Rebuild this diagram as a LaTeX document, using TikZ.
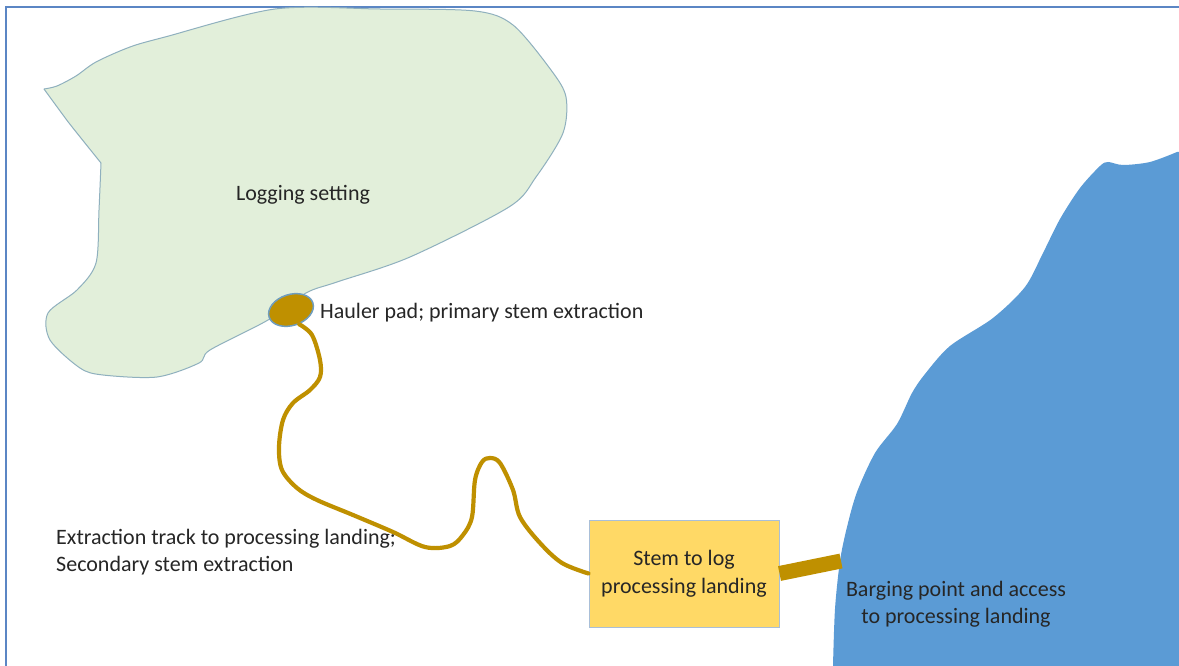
\documentclass[tikz,border=0pt]{standalone}
\usepackage{fontspec}
\setmainfont{Carlito}
\usetikzlibrary{shapes.geometric}
\definecolor{framec}{HTML}{5B86C4}
\definecolor{greenc}{HTML}{E2EFDA}
\definecolor{edgec}{HTML}{8FB0BE}
\definecolor{padedge}{HTML}{6F9DBE}
\definecolor{waterc}{HTML}{5B9BD5}
\definecolor{trackc}{HTML}{BF9000}
\definecolor{boxc}{HTML}{FFD966}
\definecolor{boxedge}{HTML}{A9BFD8}
\definecolor{textc}{HTML}{262626}
\tikzset{
  label text/.style={font=\fontsize{22}{27.5}\selectfont, text=textc, inner sep=0pt},
  track/.style={draw=trackc, line width=4.2pt, line cap=round, line join=round},
}
\begin{document}
\begin{tikzpicture}[x=1pt,y=-1pt]
\useasboundingbox (0,0) rectangle (1179,666);
\fill[white] (0,0) rectangle (1179,666);
% frame
\draw[framec, line width=1.5pt] (6,666) -- (6,7) -- (1179,7);
% logging setting
\fill[greenc] plot[smooth, tension=0.5] coordinates {
  (44,89) (57,86) (76,76) (96,62) (130,47) (165,37) (275,9) (380,9) (475,11) (513,25) (551,70) (566,97) (563,133)
  (536,177) (509,207) (410,257) (337,282) (306,293) (268,320) (210,350) (199,363) (157,377)
  (103,375) (80,368) (50,340) (48,313) (77,290) (96,263) (99,210) (101,163)}
  -- plot[smooth, tension=0.3] coordinates {(101,163) (69,123) (44,89)} -- cycle;
\draw[edgec, line width=1pt, line join=round] plot[smooth, tension=0.5] coordinates {
  (44,89) (57,86) (76,76) (96,62) (130,47) (165,37) (275,9) (380,9) (475,11) (513,25) (551,70) (566,97) (563,133)
  (536,177) (509,207) (410,257) (337,282) (306,293) (268,320) (210,350) (199,363) (157,377)
  (103,375) (80,368) (50,340) (48,313) (77,290) (96,263) (99,210) (101,163)};
\draw[edgec, line width=1pt, line join=round] plot[smooth, tension=0.3] coordinates {(101,163) (69,123) (44,89)};
% water
\fill[waterc] plot[smooth, tension=0.5] coordinates {
  (1177,152) (1150,162) (1123,165) (1108,162) (1100,166) (1080,188) (1060,219) (1043,253)
  (1025,287) (993,318) (950,346) (925,374) (912,393) (897,424) (875,453) (857,492) (847,527)
  (840,561) (835,609) (833,666)} -- (1179,666) -- (1179,152) -- cycle;
% landing
\node[draw=boxedge, fill=boxc, line width=1pt, minimum width=190pt, minimum height=107pt, inner sep=0pt, align=center, font=\fontsize{22}{27.5}\selectfont, text=textc] (box) at (684,573.5) {Stem to log\\processing landing};
% barge access
\coordinate (barge) at (841,561);
\draw[trackc, line width=15pt] (box.east) -- (barge);
% pad
\node[ellipse, draw=padedge, fill=trackc, line width=1.5pt, minimum width=46pt, minimum height=31pt, inner sep=0pt, rotate=18] (pad) at (291,310) {};
% track
\draw[track] plot[smooth, tension=0.55] coordinates {
  (pad.-78) (312,335) (320,360) (320,377) (310,390) (293,403) (283,420) (279,447) (282,470)
  (297,488) (317,500) (353,515) (393,532) (425,547) (450,546) (463,535) (472,517) (475,480)
  (482,462) (490,458) (500,463) (513,490) (520,517) (540,543) (562,563) (box.west)};
% labels
\node[label text] (ls) at (303,194.5) {Logging setting};
\node[label text, anchor=west] (hp) at (320,313) {Hauler pad; primary stem extraction};
\node[label text, anchor=west, align=left] (et) at (56,552) {Extraction track to processing landing;\\Secondary stem extraction};
\node[label text, align=center] (bp) at (956,604) {Barging point and access\\to processing landing};
\end{tikzpicture}
\end{document}
